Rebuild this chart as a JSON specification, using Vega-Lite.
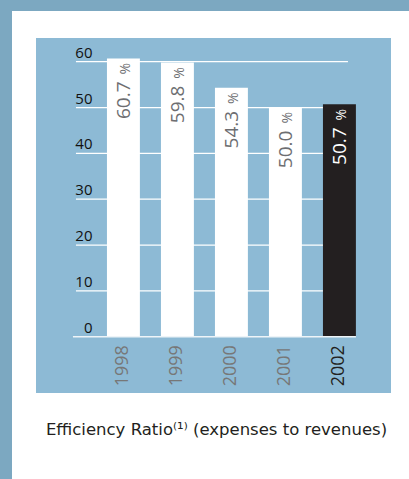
{
  "$schema": "https://vega.github.io/schema/vega-lite/v6.json",
  "background": "white",
  "padding": {"top": -24, "left": 0, "right": 0, "bottom": 0},
  "spacing": 0,
  "config": {
    "font": "Open Sans",
    "view": {"stroke": null},
    "concat": {"spacing": 0}
  },
  "hconcat": [
    {
      "width": 12,
      "height": 479,
      "view": {"fill": "#7CA8C1", "stroke": null},
      "data": {"values": []},
      "mark": "rect",
      "encoding": {}
    },
    {
      "spacing": 3,
      "vconcat": [
        {
          "width": 373,
          "height": 11,
          "view": {"fill": "#7CA8C1", "stroke": "#7CA8C1", "strokeWidth": 48, "strokeDash": [0, 757, 11, 2000], "strokeCap": "butt"},
          "data": {"values": []},
          "mark": "rect",
          "encoding": {}
        },
        {
          "width": 355,
          "height": 355,
          "view": {"fill": "#8DBAD5", "stroke": null},
          "title": {
            "text": "Efficiency Ratio⁽¹⁾ (expenses to revenues)",
            "orient": "bottom",
            "anchor": "middle",
            "offset": 29,
            "dx": 3,
            "font": "DejaVu Sans",
            "fontSize": 16.5,
            "fontWeight": "normal",
            "color": "#231F20"
          },
          "data": {
            "values": [
              {"year": "1998", "ratio": 60.7},
              {"year": "1999", "ratio": 59.8},
              {"year": "2000", "ratio": 54.3},
              {"year": "2001", "ratio": 50.0},
              {"year": "2002", "ratio": 50.7}
            ]
          },
          "layer": [
            {
              "data": {"values": [{"v": 10}, {"v": 20}, {"v": 30}, {"v": 40}, {"v": 50}, {"v": 60}]},
              "mark": {"type": "rule", "color": "white", "strokeWidth": 1.2, "xOffset": -31, "x2Offset": 25},
              "encoding": {
                "y": {"field": "v", "type": "quantitative"},
                "x": {"datum": "1998", "type": "nominal", "bandPosition": 0},
                "x2": {"datum": "2002", "bandPosition": 0}
              }
            },
            {
              "mark": {"type": "bar"},
              "encoding": {
                "x": {
                  "field": "year",
                  "type": "nominal",
                  "scale": {"type": "band", "domain": ["1998", "1999", "2000", "2001", "2002"], "paddingInner": 0.39, "paddingOuter": 0.982, "align": 0.669},
                  "axis": {
                    "title": null,
                    "orient": "bottom",
                    "offset": -56.3,
                    "zindex": 2,
                    "domain": false,
                    "ticks": false,
                    "tickSize": 0,
                    "grid": false,
                    "labelAngle": -90,
                    "labelPadding": 8,
                    "labelFont": "Open Sans",
                    "labelFontSize": 18,
                    "labelColor": {"condition": {"test": "datum.label === '2002'", "value": "#231F20"}, "value": "#777777"},
                    "minExtent": 0
                  }
                },
                "y": {
                  "field": "ratio",
                  "type": "quantitative",
                  "scale": {"domain": [-12.28, 65.17], "nice": false, "zero": false},
                  "axis": {
                    "title": null,
                    "values": [0, 10, 20, 30, 40, 50, 60],
                    "zindex": 2,
                    "grid": false,
                    "domain": false,
                    "ticks": false,
                    "tickSize": 0,
                    "labelPadding": -56,
                    "labelAlign": "right",
                    "labelBaseline": "alphabetic",
                    "labelOffset": -4.5,
                    "labelFont": "Open Sans",
                    "labelFontSize": 15,
                    "labelColor": "#111111",
                    "minExtent": 24,
                    "maxExtent": 24
                  }
                },
                "color": {"condition": {"test": "datum.year === '2002'", "value": "#231F20"}, "value": "white"}
              }
            },
            {
              "data": {"values": [{"v": 0}]},
              "mark": {"type": "rule", "color": "#EEF4F8", "strokeWidth": 1.6, "xOffset": -34, "x2Offset": 33},
              "encoding": {
                "y": {"field": "v", "type": "quantitative"},
                "x": {"datum": "1998", "type": "nominal", "bandPosition": 0},
                "x2": {"datum": "2002", "bandPosition": 0}
              }
            },
            {
              "mark": {"type": "text", "angle": 270, "align": "right", "baseline": "alphabetic", "dx": -23, "dy": 7, "font": "Open Sans", "fontSize": 19},
              "encoding": {
                "x": {"field": "year", "type": "nominal"},
                "y": {"field": "ratio", "type": "quantitative"},
                "text": {"field": "ratio", "type": "quantitative", "format": ".1f"},
                "color": {"condition": {"test": "datum.year === '2002'", "value": "white"}, "value": "#6D6E71"}
              }
            },
            {
              "mark": {"type": "text", "angle": 270, "align": "right", "baseline": "alphabetic", "dx": -4.5, "dy": 7, "font": "Open Sans", "fontSize": 14, "text": "%"},
              "encoding": {
                "x": {"field": "year", "type": "nominal"},
                "y": {"field": "ratio", "type": "quantitative"},
                "color": {"condition": {"test": "datum.year === '2002'", "value": "white"}, "value": "#6D6E71"}
              }
            }
          ]
        }
      ]
    }
  ]
}
